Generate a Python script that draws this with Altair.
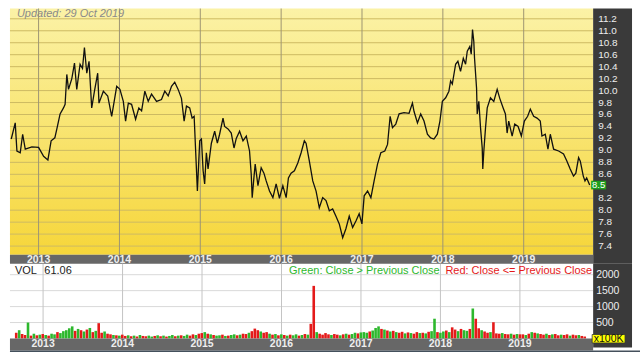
import altair as alt
import pandas as pd

# ---------------- data ----------------
price_year = [
    2012.662, 2012.711, 2012.732, 2012.773, 2012.803, 2012.835, 2012.917, 2013.000, 2013.062, 2013.115,
    2013.155, 2013.201, 2013.226, 2013.266, 2013.308, 2013.328, 2013.349, 2013.370, 2013.411, 2013.444,
    2013.472, 2013.513, 2013.543, 2013.567, 2013.596, 2013.624, 2013.657, 2013.691, 2013.731, 2013.747,
    2013.801, 2013.855, 2013.904, 2013.966, 2014.006, 2014.048, 2014.076, 2014.110, 2014.150, 2014.200,
    2014.240, 2014.274, 2014.314, 2014.356, 2014.397, 2014.459, 2014.520, 2014.561, 2014.603, 2014.644,
    2014.684, 2014.726, 2014.767, 2014.800, 2014.829, 2014.869, 2014.899, 2014.924, 2014.940, 2014.964,
    2014.993, 2015.014, 2015.035, 2015.054, 2015.075, 2015.096, 2015.137, 2015.178, 2015.211, 2015.239,
    2015.281, 2015.301, 2015.343, 2015.383, 2015.417, 2015.445, 2015.486, 2015.528, 2015.569, 2015.609,
    2015.630, 2015.642, 2015.663, 2015.679, 2015.713, 2015.753, 2015.787, 2015.815, 2015.856, 2015.898,
    2015.938, 2015.979, 2016.021, 2016.062, 2016.090, 2016.123, 2016.164, 2016.206, 2016.247, 2016.287,
    2016.308, 2016.349, 2016.391, 2016.432, 2016.472, 2016.514, 2016.555, 2016.596, 2016.637, 2016.678,
    2016.719, 2016.761, 2016.801, 2016.842, 2016.884, 2016.925, 2016.965, 2016.999, 2017.027, 2017.069,
    2017.110, 2017.150, 2017.192, 2017.233, 2017.282, 2017.316, 2017.348, 2017.377, 2017.418, 2017.459,
    2017.520, 2017.582, 2017.624, 2017.644, 2017.686, 2017.726, 2017.767, 2017.809, 2017.849, 2017.890,
    2017.932, 2017.964, 2017.994, 2018.035, 2018.075, 2018.096, 2018.117, 2018.158, 2018.186, 2018.219,
    2018.253, 2018.281, 2018.302, 2018.334, 2018.351, 2018.367, 2018.383, 2018.392, 2018.417, 2018.425,
    2018.445, 2018.466, 2018.487, 2018.494, 2018.507, 2018.528, 2018.549, 2018.589, 2018.630, 2018.672,
    2018.704, 2018.746, 2018.774, 2018.795, 2018.815, 2018.857, 2018.889, 2018.931, 2018.971, 2019.008,
    2019.049, 2019.082, 2019.123, 2019.165, 2019.205, 2019.226, 2019.267, 2019.300, 2019.329, 2019.370,
    2019.432, 2019.493, 2019.535, 2019.575, 2019.616, 2019.645, 2019.679, 2019.700, 2019.737, 2019.758,
    2019.779, 2019.816,
]
price_close = [
    9.19, 9.46, 8.99, 8.96, 9.27, 9.02, 9.06, 9.05, 8.90, 8.84,
    9.16, 9.21, 9.36, 9.61, 9.71, 9.77, 10.27, 10.02, 10.20, 10.46,
    10.02, 10.44, 10.37, 10.72, 10.29, 10.49, 9.71, 9.99, 10.29, 9.79,
    9.99, 9.91, 9.57, 10.07, 10.02, 9.82, 9.49, 9.79, 9.77, 9.52,
    9.71, 9.66, 9.99, 9.82, 9.94, 9.82, 9.85, 9.99, 9.91, 10.07,
    10.14, 10.02, 9.87, 9.49, 9.74, 9.71, 9.54, 9.57, 9.07, 8.32,
    9.16, 9.19, 8.66, 8.44, 8.96, 8.69, 9.12, 9.32, 9.12, 9.27,
    9.54, 9.40, 9.36, 9.29, 9.04, 9.20, 9.32, 9.16, 9.24, 8.99,
    8.60, 8.21, 8.54, 8.77, 8.41, 8.71, 8.62, 8.49, 8.32, 8.21,
    8.44, 8.20, 8.41, 8.21, 8.54, 8.62, 8.66, 8.79, 8.96, 9.16,
    9.12, 8.82, 8.49, 8.32, 8.04, 8.21, 8.16, 7.99, 8.02, 7.90,
    7.77, 7.54, 7.69, 7.90, 7.71, 7.82, 7.94, 7.77, 8.24, 8.32,
    8.21, 8.49, 8.77, 8.96, 8.99, 9.10, 9.57, 9.38, 9.44, 9.61,
    9.63, 9.62, 9.79, 9.65, 9.46, 9.61, 9.49, 9.27, 9.21, 9.19,
    9.27, 9.49, 9.82, 9.88, 9.99, 10.16, 10.11, 10.44, 10.49, 10.32,
    10.54, 10.44, 10.66, 10.74, 10.61, 11.02, 10.82, 10.54, 10.04, 9.61,
    9.82, 9.38, 9.04, 8.69, 8.99, 9.38, 9.71, 9.88, 9.82, 10.02,
    9.87, 9.71, 9.61, 9.29, 9.49, 9.24, 9.44, 9.40, 9.24, 9.49,
    9.57, 9.69, 9.57, 9.54, 9.49, 9.24, 9.27, 9.02, 9.27, 9.02,
    8.99, 8.94, 8.82, 8.69, 8.57, 8.62, 8.88, 8.82, 8.57, 8.49,
    8.54, 8.42,
]

# volume in units of 100K, one bar per ~2 weeks, with its up/down colour
vol_values = [
    180, 260, 140, 110, 500, 90, 150, 100, 120, 140,
    110, 90, 150, 130, 200, 170, 230, 260, 320, 380, 240, 300, 260, 220, 280, 330, 200, 240, 480, 180,
    220, 150, 130, 110, 100, 90, 120,
    80, 100, 70, 90, 60, 110, 80, 70, 90, 60, 80, 100, 70, 90, 60, 80, 110, 70, 90, 100,
    80, 120, 90, 130, 110, 150, 170,
    200, 150, 130, 110, 90, 100, 120, 80, 90, 110, 130, 100, 120, 150, 140, 180, 230, 310, 260, 220,
    180, 200, 150, 120, 140, 100, 130,
    110, 90, 120, 100, 130, 90, 110, 140, 120, 460, 1650, 200, 150, 120, 170, 130, 110, 140, 120, 100,
    130, 150, 120, 140, 180, 160, 190,
    200, 180, 220, 250, 330, 380, 300, 280, 250, 220, 240, 200, 180, 210, 160, 190, 170, 150, 200, 170,
    180, 160, 210, 230, 620, 200, 180,
    220, 250, 200, 350, 280, 230, 300, 260, 240, 300, 940, 620, 320, 260, 220, 180, 200, 510, 160, 150,
    170, 140, 130, 150, 120, 140, 130,
    130, 110, 150, 200, 180, 160, 140, 120, 150, 110, 130, 140, 100, 120, 110, 130, 90, 120, 100, 110,
    80, 61.06,
]
vol_dirs = (
    "RGRRGRGRGR"
    "GRGGRGGGGGRGRGRGRGRRGRRGRGR"
    "RGRGRGRRGGRGRGRGGRGRGGRRGRR"
    "GRGRGGRGRGGRGRRGRRRGRRGRGRG"
    "RGRGGRGRGRRGRRRRGRRGRGRGGRG"
    "GGRGGGRGRGRGRRGRGRRGRGRGGRG"
    "GRGRRGRGGRGRRGRRGRRRGRRGRGR"
    "RGRGRGRRGRGRRGRRGRRGRR"
)

year_ticks = [2013, 2014, 2015, 2016, 2017, 2018, 2019]
price_ticks = [7.4, 7.6, 7.8, 8.0, 8.2, 8.4, 8.6, 8.8, 9.0, 9.2, 9.4, 9.6, 9.8,
               10.0, 10.2, 10.4, 10.6, 10.8, 11.0, 11.2]
vol_ticks = [500, 1000, 1500, 2000]
last_label = "8.5"
vol_label = "61.06"
updated_text = "Updated: 29 Oct 2019"
legend_green = "Green: Close > Previous Close"
legend_red = "Red: Close <= Previous Close"
unit_text = "x100K"

# ---------------- layout / style ----------------
W, PH, VH = 585, 247, 75
BAND1, BAND2 = 9, 12
X_DOM = [2012.646, 2019.859]
P_DOM = [7.255, 11.372]
V_DOM = [0, 2344]
FONT = "Liberation Sans"
PANEL = "#3A3A3A"
BAND = "#676767"
LBL = "#EEEEEE"
GREEN = "#2DB82D"
RED = "#E41A1A"

xs = alt.Scale(domain=X_DOM, nice=False, zero=False)
ps = alt.Scale(domain=P_DOM, nice=False, zero=False)
vs = alt.Scale(domain=V_DOM, nice=False)

one = pd.DataFrame({"a": [0]})
price_df = pd.DataFrame({"t": price_year, "close": price_close})
n = len(vol_values)
step = (price_year[-1] - price_year[0]) / (n - 1)
vol_df = pd.DataFrame({
    "t": [price_year[0] + i * step for i in range(n)],
    "vol": vol_values,
    "dir": list(vol_dirs)[:n],
})
last = price_close[-1]
years_df = pd.DataFrame({"yr": year_ticks, "lab": [str(y) for y in year_ticks]})
plab_df = pd.DataFrame({"p": [p for p in price_ticks if abs(p - last) > 0.1]})
plab_df["lab"] = plab_df["p"].map(lambda v: f"{v:.1f}")
vlab_df = pd.DataFrame({"v": vol_ticks, "lab": [str(v) for v in vol_ticks]})


def xq(field):
    return alt.X(field, type="quantitative", scale=xs, axis=None)


# ---------------- price panel ----------------
bg = alt.Chart(pd.DataFrame({"x0": [X_DOM[0]], "x1": [X_DOM[1]],
                             "y0": [P_DOM[0]], "y1": [P_DOM[1]]})).mark_rect(
    fill=alt.LinearGradient(gradient="linear",
                            stops=[alt.GradientStop(color="#FBF2A6", offset=0),
                                   alt.GradientStop(color="#F6D63A", offset=1)],
                            x1=0, x2=0, y1=0, y2=1)
).encode(x=xq("x0"), x2="x1", y=alt.Y("y0:Q", scale=ps, axis=None), y2="y1")

hgrid = alt.Chart(pd.DataFrame({"p": price_ticks})).mark_rule(
    color="#CDBA62", strokeWidth=1).encode(y=alt.Y("p:Q", scale=ps, axis=None))
vgrid = alt.Chart(years_df).mark_rule(color="#9E9572", strokeWidth=1).encode(x=xq("yr"))

line = alt.Chart(price_df).mark_line(color="#111111", strokeWidth=1.3).encode(
    x=xq("t"), y=alt.Y("close:Q", scale=ps, axis=None))

panel1 = alt.Chart(one).mark_rect(color=PANEL).encode(
    x=alt.value(W), x2=alt.value(W + 39), y=alt.value(0), y2=alt.value(PH + BAND1))
band1 = alt.Chart(one).mark_rect(color=BAND).encode(
    x=alt.value(0), x2=alt.value(W), y=alt.value(PH), y2=alt.value(PH + BAND1))

yr1 = alt.Chart(years_df).mark_text(
    color=LBL, fontSize=10.5, fontWeight="bold", font=FONT, align="center", baseline="middle"
).encode(x=xq("yr"), y=alt.value(PH + 5), text="lab:N")
plab = alt.Chart(plab_df).mark_text(
    color=LBL, fontSize=10, font=FONT, align="left", baseline="middle"
).encode(x=alt.value(W + 5), y=alt.Y("p:Q", scale=ps, axis=None), text="lab:N")

last_df = pd.DataFrame({"lo": [last - 0.072], "hi": [last + 0.072],
                        "close": [last], "label": [last_label]})
cur_box = alt.Chart(last_df).mark_rect(color="#1E9E1E").encode(
    x=alt.value(W - 2), x2=alt.value(W + 13),
    y=alt.Y("lo:Q", scale=ps, axis=None), y2="hi")
cur_txt = alt.Chart(last_df).mark_text(
    color="white", fontSize=9.5, font=FONT, align="center", baseline="middle").encode(
    x=alt.value(W + 5.5), y=alt.Y("close:Q", scale=ps, axis=None), text="label:N")

upd = alt.Chart(pd.DataFrame({"s": [updated_text]})).mark_text(
    color="#8A8A8A", fontSize=11, font=FONT, fontStyle="italic",
    align="left", baseline="middle").encode(x=alt.value(7), y=alt.value(5.5), text="s:N")

price = alt.layer(bg, hgrid, vgrid, line, panel1, band1, yr1, plab,
                  cur_box, cur_txt, upd).properties(width=W, height=PH)

# ---------------- volume panel ----------------
vh = alt.Chart(pd.DataFrame({"v": vol_ticks})).mark_rule(
    color="#D9D9D9", strokeWidth=1).encode(y=alt.Y("v:Q", scale=vs, axis=None))
vv = alt.Chart(years_df).mark_rule(color="#C4C4C4", strokeWidth=1).encode(x=xq("yr"))

bars = alt.Chart(vol_df).mark_bar(size=2.6).encode(
    x=xq("t"),
    y=alt.Y("vol:Q", scale=vs, axis=None),
    color=alt.Color("dir:N", scale=alt.Scale(domain=["G", "R"], range=[GREEN, RED]),
                    legend=None),
)

txt_vol = alt.Chart(pd.DataFrame({"s": ["VOL"]})).mark_text(
    color="#222222", fontSize=11, font=FONT, align="left", baseline="middle").encode(
    x=alt.value(5), y=alt.value(7), text="s:N")
txt_val = alt.Chart(pd.DataFrame({"s": [vol_label]})).mark_text(
    color="#222222", fontSize=11, font=FONT, align="left", baseline="middle").encode(
    x=alt.value(34.5), y=alt.value(7), text="s:N")
txt_g = alt.Chart(pd.DataFrame({"s": [legend_green]})).mark_text(
    color=GREEN, fontSize=11, font=FONT, align="right", baseline="middle").encode(
    x=alt.value(431), y=alt.value(7), text="s:N")
txt_r = alt.Chart(pd.DataFrame({"s": [legend_red]})).mark_text(
    color=RED, fontSize=11, font=FONT, align="right", baseline="middle").encode(
    x=alt.value(584), y=alt.value(7), text="s:N")

panel2 = alt.Chart(one).mark_rect(color=PANEL).encode(
    x=alt.value(W), x2=alt.value(W + 39), y=alt.value(0), y2=alt.value(VH + 9))
band2 = alt.Chart(one).mark_rect(color=BAND).encode(
    x=alt.value(0), x2=alt.value(W), y=alt.value(VH), y2=alt.value(VH + BAND2))
bottom = alt.Chart(one).mark_rect(color="#44505C").encode(
    x=alt.value(0), x2=alt.value(632), y=alt.value(VH + BAND2), y2=alt.value(VH + BAND2 + 2))

yr2 = alt.Chart(years_df).mark_text(
    color=LBL, fontSize=10.5, fontWeight="bold", font=FONT, align="center", baseline="middle"
).encode(x=xq("yr"), y=alt.value(VH + 6), text="lab:N")
vlab = alt.Chart(vlab_df).mark_text(
    color=LBL, fontSize=10.5, font=FONT, align="left", baseline="middle"
).encode(x=alt.value(W + 3), y=alt.Y("v:Q", scale=vs, axis=None), text="lab:N")

unit_box = alt.Chart(one).mark_rect(color="#FFFF00", stroke="#333333", strokeWidth=0.8).encode(
    x=alt.value(W - 1), x2=alt.value(W + 32), y=alt.value(VH - 4), y2=alt.value(VH + 4.5))
unit_txt = alt.Chart(pd.DataFrame({"s": [unit_text]})).mark_text(
    color="#111111", fontSize=10.5, font=FONT, align="center", baseline="middle").encode(
    x=alt.value(W + 15.5), y=alt.value(VH + 0.5), text="s:N")

volume = alt.layer(vh, vv, bars, txt_vol, txt_val, txt_g, txt_r,
                   panel2, band2, bottom, yr2, vlab, unit_box, unit_txt).properties(
    width=W, height=VH)

chart = alt.vconcat(price, volume, spacing=BAND1, bounds="flush").properties(
    padding={"left": 8, "top": 7, "right": 0, "bottom": 0},
    background="white",
).configure_view(strokeWidth=0).configure_text(font=FONT)

chart.save("out.html", embed_options={"renderer": "svg", "actions": False})
